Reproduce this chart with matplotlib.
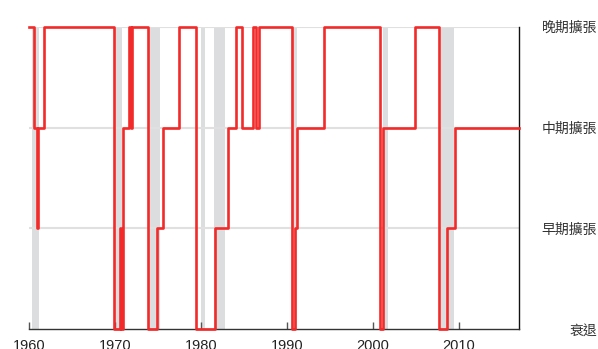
import matplotlib
matplotlib.use("Agg")
import matplotlib.pyplot as plt

plt.rcParams['font.family'] = ['Liberation Sans', 'Noto Sans CJK TC', 'DejaVu Sans']

# phase changes (year fraction, phase level)
change_years = [1960.0, 1960.6, 1960.9, 1961.0, 1961.7, 1969.9, 1970.6, 1970.7, 1970.9,
                1971.6, 1971.8, 1971.95, 1973.87, 1974.85, 1975.6, 1977.45, 1979.4,
                1981.65, 1983.1, 1984.1, 1984.75, 1986.1, 1986.45, 1986.7, 1990.58,
                1990.9, 1991.2, 1994.27, 2000.87, 2001.2, 2004.95, 2007.75, 2008.65,
                2009.53, 2017.07]
phase = [3, 2, 1, 2, 3, 0, 1, 0, 2,
         3, 2, 3, 0, 1, 2, 3, 0,
         1, 2, 3, 2, 3, 2, 3, 0,
         1, 2, 3, 0, 2, 3, 0, 1,
         2, 2]

# NBER recessions
rec_start = [1960.33, 1969.92, 1973.83, 1980.0, 1981.5, 1990.5, 2001.17, 2007.92]
rec_end = [1961.17, 1970.83, 1975.17, 1980.5, 1982.83, 1991.17, 2001.83, 2009.42]

phase_labels = ['衰退', '早期擴張', '中期擴張', '晚期擴張']
year_ticks = [1960, 1970, 1980, 1990, 2000, 2010]

fig = plt.figure(figsize=(5.98, 3.49), dpi=100)
ax = fig.add_axes([0.049, 0.0564, 0.8194, 0.867])

for s, e in zip(rec_start, rec_end):
    ax.axvspan(s, e, color='#dcdddf', lw=0, zorder=0)

for lvl in [1, 2, 3]:
    ax.axhline(lvl, color='#e0e0e0', lw=1.5, zorder=1)

ax.step(change_years, phase, where='post', color='#f22a2a', lw=1.9,
        zorder=3, clip_on=False)

ax.set_xlim(1960, 2017.07)
ax.set_ylim(0, 3)

for side in ['top', 'left']:
    ax.spines[side].set_visible(False)
ax.spines['bottom'].set_color('#333333')
ax.spines['right'].set_color('#111111')
ax.spines['bottom'].set_linewidth(1)
ax.spines['right'].set_linewidth(1)

ax.set_xticks(year_ticks)
ax.set_xticklabels([str(y) for y in year_ticks])
ax.tick_params(axis='x', direction='in', length=5, width=1, color='#555555',
               labelsize=10.5, pad=7, labelcolor='#222222')

ax.yaxis.tick_right()
ax.set_yticks([0, 1, 2, 3])
ax.set_yticklabels(phase_labels)
ax.tick_params(axis='y', length=0, pad=56, labelsize=10, labelcolor='#333333')
for lab in ax.get_yticklabels():
    lab.set_horizontalalignment('right')
    lab.set_family(['Noto Sans CJK TC'])

fig.savefig('out.png', dpi=100)
